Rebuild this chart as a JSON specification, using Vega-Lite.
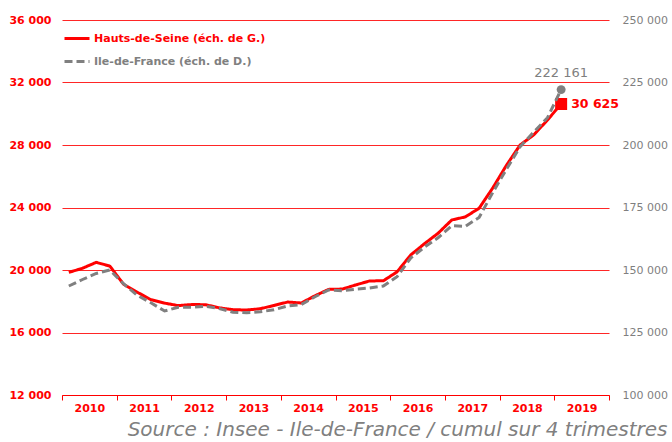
{
  "$schema": "https://vega.github.io/schema/vega-lite/v6.json",
  "width": 547,
  "height": 375,
  "autosize": "none",
  "padding": {"left": 62, "top": 20, "right": 63, "bottom": 47},
  "background": "white",
  "config": {
    "view": {"stroke": null},
    "font": "DejaVu Sans",
    "locale": {"number": {"decimal": ",", "thousands": " ", "grouping": [3], "currency": ["", " €"]}}
  },
  "title": {
    "text": "Source : Insee - Ile-de-France / cumul sur 4 trimestres",
    "orient": "bottom",
    "anchor": "end",
    "frame": "bounds",
    "font": "DejaVu Sans",
    "fontSize": 20,
    "fontStyle": "italic",
    "fontWeight": "normal",
    "color": "#808080",
    "offset": 7
  },
  "data": {
    "values": [
      {"t": 2010.125, "hds": 19850, "idf": 143600},
      {"t": 2010.375, "hds": 20110, "idf": 146200},
      {"t": 2010.625, "hds": 20490, "idf": 148600},
      {"t": 2010.875, "hds": 20250, "idf": 150000},
      {"t": 2011.125, "hds": 19090, "idf": 144500},
      {"t": 2011.375, "hds": 18580, "idf": 139900},
      {"t": 2011.625, "hds": 18100, "idf": 136900},
      {"t": 2011.875, "hds": 17880, "idf": 133600},
      {"t": 2012.125, "hds": 17720, "idf": 135100},
      {"t": 2012.375, "hds": 17790, "idf": 135100},
      {"t": 2012.625, "hds": 17780, "idf": 135500},
      {"t": 2012.875, "hds": 17580, "idf": 134600},
      {"t": 2013.125, "hds": 17460, "idf": 133100},
      {"t": 2013.375, "hds": 17440, "idf": 132900},
      {"t": 2013.625, "hds": 17520, "idf": 133300},
      {"t": 2013.875, "hds": 17730, "idf": 134100},
      {"t": 2014.125, "hds": 17950, "idf": 135600},
      {"t": 2014.375, "hds": 17890, "idf": 136200},
      {"t": 2014.625, "hds": 18350, "idf": 139300},
      {"t": 2014.875, "hds": 18760, "idf": 142000},
      {"t": 2015.125, "hds": 18780, "idf": 141700},
      {"t": 2015.375, "hds": 19050, "idf": 142300},
      {"t": 2015.625, "hds": 19300, "idf": 142800},
      {"t": 2015.875, "hds": 19310, "idf": 143600},
      {"t": 2016.125, "hds": 19880, "idf": 147300},
      {"t": 2016.375, "hds": 20960, "idf": 154800},
      {"t": 2016.625, "hds": 21680, "idf": 159100},
      {"t": 2016.875, "hds": 22350, "idf": 162900},
      {"t": 2017.125, "hds": 23200, "idf": 167700},
      {"t": 2017.375, "hds": 23400, "idf": 167500},
      {"t": 2017.625, "hds": 23950, "idf": 171000},
      {"t": 2017.875, "hds": 25250, "idf": 181000},
      {"t": 2018.125, "hds": 26700, "idf": 190300},
      {"t": 2018.375, "hds": 28000, "idf": 199300},
      {"t": 2018.625, "hds": 28650, "idf": 205200},
      {"t": 2018.875, "hds": 29600, "idf": 210900},
      {"t": 2019.125, "hds": 30625, "idf": 222161}
    ]
  },
  "encoding": {
    "x": {
      "field": "t",
      "type": "quantitative",
      "scale": {"domain": [2010, 2020], "nice": false, "zero": false},
      "axis": {
        "values": [2010, 2011, 2012, 2013, 2014, 2015, 2016, 2017, 2018, 2019, 2020],
        "labelExpr": "datum.value < 2020 ? format(datum.value, 'd') : ''",
        "labelOffset": 27.35,
        "labelPadding": 2,
        "labelColor": "#ff0000",
        "labelFont": "DejaVu Sans",
        "labelFontSize": 11,
        "labelFontWeight": "bold",
        "labelFlush": false,
        "labelOverlap": false,
        "labelBound": false,
        "tickColor": "#ff0000",
        "tickSize": 5,
        "domainColor": "#ff0000",
        "grid": false,
        "title": null
      }
    }
  },
  "layer": [
    {
      "encoding": {
        "y": {
          "field": "hds",
          "type": "quantitative",
          "scale": {"domain": [12000, 36000], "nice": false, "zero": false},
          "axis": {
            "orient": "left",
            "values": [12000, 16000, 20000, 24000, 28000, 32000, 36000],
            "format": ",d",
            "labelColor": "#ff0000",
            "labelFont": "DejaVu Sans",
            "labelFontSize": 11,
            "labelFontWeight": "bold",
            "labelPadding": 11,
            "ticks": false,
            "domain": false,
            "grid": true,
            "gridColor": "#ff0000",
            "gridOpacity": 0.85,
            "gridWidth": 1,
            "title": null
          }
        }
      },
      "layer": [
        {
          "mark": {"type": "line", "strokeWidth": 3, "strokeJoin": "round"},
          "encoding": {
            "color": {
              "datum": "Hauts-de-Seine (éch. de G.)",
              "type": "nominal",
              "scale": {"domain": ["Hauts-de-Seine (éch. de G.)", "Ile-de-France (éch. de D.)"], "range": ["#ff0000", "#808080"]},
              "legend": {
                "title": null,
                "orient": "none",
                "legendX": 1,
                "legendY": 4.5,
                "padding": 0,
                "symbolType": "stroke",
                "symbolSize": 625,
                "symbolStrokeWidth": 3,
                "rowPadding": 3,
                "labelOffset": 3,
                "labelLimit": 400,
                "labelFont": "DejaVu Sans",
                "labelFontSize": 11,
                "labelFontWeight": "bold",
                "encode": {"labels": {"update": {"fill": {"signal": "datum.index === 0 ? '#ff0000' : '#808080'"}}}}
              }
            },
            "strokeDash": {
              "datum": "Hauts-de-Seine (éch. de G.)",
              "type": "nominal",
              "scale": {"domain": ["Hauts-de-Seine (éch. de G.)", "Ile-de-France (éch. de D.)"], "range": [[1, 0], [8, 4]]},
              "legend": {
                "title": null,
                "orient": "none",
                "legendX": 1,
                "legendY": 4.5,
                "padding": 0,
                "symbolType": "stroke",
                "symbolSize": 625,
                "symbolStrokeWidth": 3,
                "rowPadding": 3,
                "labelOffset": 3,
                "labelLimit": 400,
                "labelFont": "DejaVu Sans",
                "labelFontSize": 11,
                "labelFontWeight": "bold",
                "encode": {"labels": {"update": {"fill": {"signal": "datum.index === 0 ? '#ff0000' : '#808080'"}}}}
              }
            }
          }
        },
        {
          "transform": [{"filter": "datum.t > 2019"}],
          "mark": {"type": "point", "shape": "square", "filled": true, "size": 144, "color": "#ff0000", "opacity": 1}
        },
        {
          "transform": [{"filter": "datum.t > 2019"}],
          "mark": {"type": "text", "align": "left", "baseline": "middle", "dx": 10, "font": "DejaVu Sans", "fontSize": 12.5, "fontWeight": "bold", "color": "#ff0000"},
          "encoding": {"text": {"field": "hds", "type": "quantitative", "format": ",d"}}
        }
      ]
    },
    {
      "encoding": {
        "y": {
          "field": "idf",
          "type": "quantitative",
          "scale": {"domain": [100000, 250000], "nice": false, "zero": false},
          "axis": {
            "orient": "right",
            "values": [100000, 125000, 150000, 175000, 200000, 225000, 250000],
            "format": ",d",
            "labelColor": "#7f7f7f",
            "labelFont": "DejaVu Sans",
            "labelFontSize": 11,
            "labelPadding": 13,
            "ticks": false,
            "domain": false,
            "grid": false,
            "title": null
          }
        }
      },
      "layer": [
        {
          "mark": {"type": "line", "strokeWidth": 3},
          "encoding": {
            "color": {"datum": "Ile-de-France (éch. de D.)", "type": "nominal"},
            "strokeDash": {"datum": "Ile-de-France (éch. de D.)", "type": "nominal"}
          }
        },
        {
          "transform": [{"filter": "datum.t > 2019"}],
          "mark": {"type": "point", "shape": "circle", "filled": true, "size": 80, "color": "#808080", "opacity": 1}
        },
        {
          "transform": [{"filter": "datum.t > 2019"}],
          "mark": {"type": "text", "align": "center", "baseline": "middle", "dy": -17, "font": "DejaVu Sans", "fontSize": 13, "color": "#7f7f7f"},
          "encoding": {"text": {"field": "idf", "type": "quantitative", "format": ",d"}}
        }
      ]
    }
  ],
  "resolve": {"scale": {"y": "independent"}}
}
